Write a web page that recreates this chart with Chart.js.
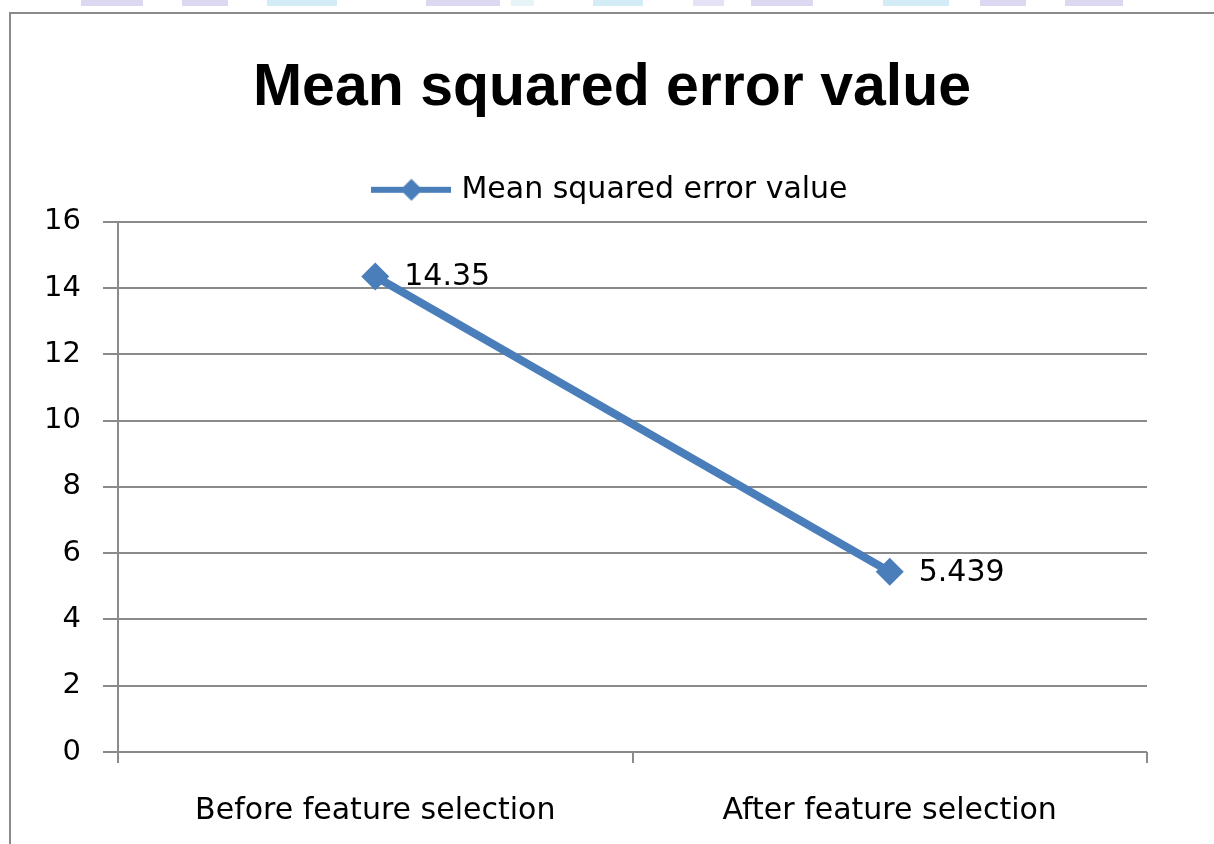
<!DOCTYPE html>
<html>
<head>
<meta charset="utf-8">
<script src="https://cdn.jsdelivr.net/npm/chart.js@4.4.1/dist/chart.umd.min.js"></script>
<style>
  html, body { margin: 0; padding: 0; background: #fff; }
  #wrap { position: relative; width: 1214px; height: 844px; overflow: hidden; }
  #frame { position: absolute; left: 9px; top: 12px; width: 1220px; height: 850px;
           border-left: 2px solid #8a8a8a; border-top: 2px solid #8a8a8a; }
  .blk { position: absolute; top: 0; height: 6px; }
  canvas { position: absolute; left: 0; top: 0; }
</style>
</head>
<body>
<div id="wrap">
  <div id="frame"></div>
  <div id="strip"></div>
  <canvas id="chartMse" width="1214" height="844"></canvas>
</div>
<script>
const categories = ['Before feature selection', 'After feature selection'];
const mseValues = [14.35, 5.439];
const seriesName = 'Mean squared error value';
const chartTitle = 'Mean squared error value';
const yTicks = [0, 2, 4, 6, 8, 10, 12, 14, 16];

const lineColor = '#4A7EBB';

// faint scan marks along the top edge
const stripBlocks = [
  [81, 62, '#dcd8f2'], [182, 46, '#dcd8f2'], [267, 70, '#d3ecf6'],
  [426, 74, '#dcd8f2'], [511, 23, '#e6f3f7'], [593, 50, '#d3ecf6'],
  [693, 31, '#e4e2f4'], [751, 62, '#dcd8f2'], [883, 66, '#d3ecf6'],
  [980, 46, '#dcd8f2'], [1065, 58, '#dcd8f2'],
];
const strip = document.getElementById('strip');
stripBlocks.forEach(([x, w, c]) => {
  const d = document.createElement('div');
  d.className = 'blk';
  d.style.left = x + 'px';
  d.style.width = w + 'px';
  d.style.background = c;
  strip.appendChild(d);
});

// legend marker: line with a diamond on it
const legendMark = document.createElement('canvas');
legendMark.width = 80;
legendMark.height = 28;
(function () {
  const c = legendMark.getContext('2d');
  c.strokeStyle = lineColor;
  c.lineWidth = 6;
  c.beginPath();
  c.moveTo(0, 14);
  c.lineTo(80, 14);
  c.stroke();
  c.fillStyle = lineColor;
  c.beginPath();
  c.moveTo(40, 3);
  c.lineTo(51, 14);
  c.lineTo(40, 25);
  c.lineTo(29, 14);
  c.closePath();
  c.fill();
})();

// a bit more room under the legend
const legendGap = {
  id: 'legendGap',
  beforeLayout(chart) {
    const lg = chart.legend;
    if (lg && !lg._gapPatched) {
      const fit = lg.fit;
      lg.fit = function () {
        fit.call(this);
        this.height += 7;
      };
      lg._gapPatched = true;
    }
  }
};

const valueLabels = {
  id: 'valueLabels',
  afterDatasetsDraw(chart) {
    const { ctx } = chart;
    const meta = chart.getDatasetMeta(0);
    ctx.save();
    ctx.font = '30px "DejaVu Sans"';
    ctx.fillStyle = '#000';
    ctx.textAlign = 'left';
    ctx.textBaseline = 'middle';
    meta.data.forEach((pt, i) => {
      ctx.fillText(String(mseValues[i]), pt.x + 29, pt.y + 1);
    });
    ctx.restore();
  }
};

Chart.defaults.font.family = '"DejaVu Sans"';
Chart.defaults.color = '#000';

const ctx = document.getElementById('chartMse').getContext('2d');
new Chart(ctx, {
  type: 'line',
  data: {
    labels: categories,
    datasets: [{
      label: seriesName,
      data: mseValues,
      borderColor: lineColor,
      backgroundColor: lineColor,
      borderWidth: 8,
      tension: 0,
      pointStyle: 'rectRot',
      pointRadius: 14,
      pointHoverRadius: 14,
      pointBorderWidth: 0,
      yAxisID: 'y',
    }],
  },
  options: {
    responsive: false,
    animation: false,
    events: [],
    layout: { padding: { left: 10, right: 0, top: 0, bottom: 0 } },
    plugins: {
      title: {
        display: true,
        text: chartTitle,
        font: { family: '"Liberation Sans"', size: 59, weight: 'bold' },
        color: '#000',
        padding: { top: 53, bottom: 26 },
      },
      legend: {
        display: true,
        labels: {
          usePointStyle: true,
          pointStyleWidth: 70,
          generateLabels(chart) {
            return [{
              text: seriesName,
              pointStyle: legendMark,
              fillStyle: lineColor,
              strokeStyle: lineColor,
              lineWidth: 0,
              datasetIndex: 0,
            }];
          },
          font: { size: 30 },
          color: '#000',
          padding: 25,
        },
      },
      tooltip: { enabled: false },
    },
    scales: {
      x: {
        offset: true,
        grid: {
          offset: true,
          drawOnChartArea: false,
          drawTicks: true,
          tickLength: 11,
          color: '#8a8a8a',
          lineWidth: 2,
        },
        border: { display: false },
        ticks: { font: { size: 30 }, padding: 30, color: '#000' },
        afterFit(scale) { scale.height = 92; },
      },
      y: {
        min: 0,
        max: 16,
        afterBuildTicks(scale) { scale.ticks = yTicks.map(v => ({ value: v })); },
        grid: {
          color: '#8a8a8a',
          lineWidth: 2,
          tickLength: 15,
        },
        border: { display: true, color: '#8a8a8a', width: 2 },
        ticks: { font: { size: 29 }, padding: 22, color: '#000' },
        afterFit(scale) { scale.width = 108; },
      },
      yRight: {
        position: 'right',
        display: true,
        grid: { display: false },
        border: { display: false },
        ticks: { display: false },
        afterFit(scale) { scale.width = 67; },
      },
    },
  },
  plugins: [legendGap, valueLabels],
});
</script>
</body>
</html>
